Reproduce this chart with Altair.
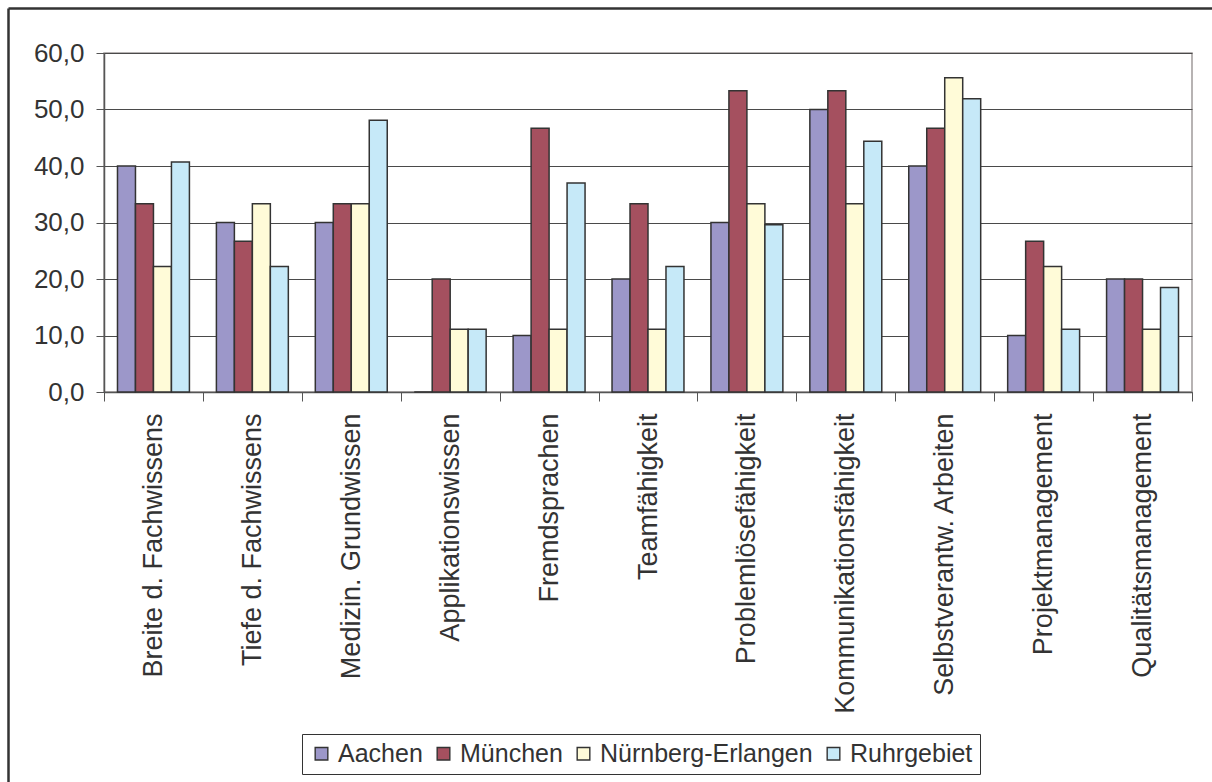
import altair as alt
import pandas as pd

# Skills rated per region (percent of respondents)
categories = [
    "Breite d. Fachwissens",
    "Tiefe d. Fachwissens",
    "Medizin. Grundwissen",
    "Applikationswissen",
    "Fremdsprachen",
    "Teamfähigkeit",
    "Problemlösefähigkeit",
    "Kommunikationsfähigkeit",
    "Selbstverantw. Arbeiten",
    "Projektmanagement",
    "Qualitätsmanagement",
]
regions = ["Aachen", "München", "Nürnberg-Erlangen", "Ruhrgebiet"]
aachen = [40.0, 30.0, 30.0, 0.0, 10.0, 20.0, 30.0, 50.0, 40.0, 10.0, 20.0]
muenchen = [33.3, 26.7, 33.3, 20.0, 46.7, 33.3, 53.3, 53.3, 46.7, 26.7, 20.0]
nuernberg = [22.2, 33.3, 33.3, 11.1, 11.1, 11.1, 33.3, 33.3, 55.6, 22.2, 11.1]
ruhr = [40.7, 22.2, 48.1, 11.1, 37.0, 22.2, 29.6, 44.4, 51.9, 11.1, 18.5]
colors = ["#9C97C9", "#A5505F", "#FFFBD8", "#C6E9F8"]

series = [aachen, muenchen, nuernberg, ruhr]
rows = []
for region, vals in zip(regions, series):
    for cat, v in zip(categories, vals):
        rows.append({"Kategorie": cat, "Region": region, "Wert": v})
df = pd.DataFrame(rows)

W, H = 1088, 339
LEFT, TOP = 104, 53
FONT = "Liberation Sans"
TXT = "#333333"

bars = alt.Chart(df).mark_bar(stroke="#333333", strokeWidth=1.5).encode(
    x=alt.X(
        "Kategorie:N",
        sort=categories,
        scale=alt.Scale(paddingInner=0, paddingOuter=0),
        axis=alt.Axis(
            title=None,
            labelAngle=270,
            labelAlign="right",
            labelBaseline="middle",
            labelPadding=12,
            labelFontSize=27,
            labelFont=FONT,
            labelColor=TXT,
            tickBand="extent",
            tickSize=9,
            tickColor="#555555",
            domainColor="#555555",
            domainWidth=1.5,
            grid=False,
            labelLimit=400,
        ),
    ),
    xOffset=alt.XOffset(
        "Region:N", sort=regions, scale=alt.Scale(paddingInner=0, paddingOuter=0.75)
    ),
    y=alt.Y(
        "Wert:Q",
        scale=alt.Scale(domain=[0, 60], nice=False),
        axis=alt.Axis(
            title=None,
            values=[0, 10, 20, 30, 40, 50, 60],
            labelExpr="replace(format(datum.value, '.1f'), '.', ',')",
            labelFontSize=26,
            labelFont=FONT,
            labelColor=TXT,
            labelPadding=12,
            tickSize=8,
            tickColor="#555555",
            domainColor="#555555",
            domainWidth=1.5,
            gridColor="#4a4a4a",
            gridWidth=1,
        ),
    ),
    color=alt.Color(
        "Region:N",
        sort=regions,
        scale=alt.Scale(domain=regions, range=colors),
        legend=alt.Legend(
            title=None,
            orient="none",
            legendX=198,
            legendY=681,
            direction="horizontal",
            symbolType="square",
            symbolSize=160,
            symbolStrokeColor="#333333",
            symbolStrokeWidth=1.4,
            labelFontSize=25,
            labelFont=FONT,
            labelColor=TXT,
            strokeColor="#333333",
            padding=7,
            columnPadding=8,
            labelOffset=4,
            labelLimit=400,
        ),
    ),
)

# Outer frame lines (left and top edges of the figure)
frame_df = pd.DataFrame({"k": [0]})
left_edge = alt.Chart(frame_df).mark_rule(color="#333333", strokeWidth=2.5).encode(
    x=alt.value(8.5 - LEFT), y=alt.value(8.5 - TOP), y2=alt.value(782 - TOP)
)
top_edge = alt.Chart(frame_df).mark_rule(color="#333333", strokeWidth=2.5).encode(
    x=alt.value(8.5 - LEFT), x2=alt.value(1212 - LEFT), y=alt.value(8.5 - TOP)
)

chart = (
    alt.layer(bars, left_edge, top_edge)
    .properties(
        width=W,
        height=H,
        autosize=alt.AutoSizeParams(type="none"),
        padding={"left": LEFT, "top": TOP, "right": 1212 - LEFT - W, "bottom": 782 - TOP - H},
        background="white",
    )
    .configure_view(stroke="#a09a9a", strokeWidth=1.5)
)

chart.save("out.html", embed_options={"renderer": "svg", "actions": False})
